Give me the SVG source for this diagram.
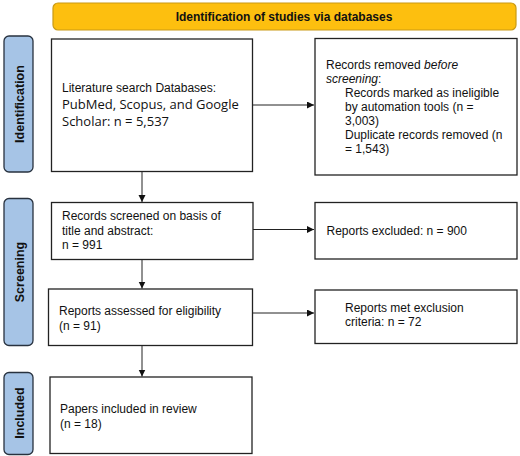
<svg xmlns="http://www.w3.org/2000/svg" width="520" height="456" viewBox="0 0 520 456">
<defs>
<marker id="ah" markerWidth="8" markerHeight="8" refX="7" refY="3.5" orient="auto" markerUnits="userSpaceOnUse">
<path d="M0,0 L7,3.5 L0,7 Z" fill="#111"/>
</marker>
<style>
.box{fill:#fff;stroke:#222;stroke-width:1.3}
.side{fill:#a6c4e6;stroke:#28323f;stroke-width:1.3}
.t{font-family:"Liberation Sans",Arial,sans-serif;font-size:12px;fill:#111}
.o{font-family:"Open Sans","Liberation Sans",sans-serif;font-size:13px;fill:#111}
.st{font-family:"Liberation Sans",Arial,sans-serif;font-size:12.5px;font-weight:bold;fill:#111;text-anchor:middle}
.c{stroke:#222;stroke-width:1;fill:none;marker-end:url(#ah)}
</style>
</defs>
<rect width="520" height="456" fill="#fff"/>
<g id="banner">
<rect x="53" y="3" width="463" height="27" rx="5" fill="#fdbf0f" stroke="#c99a16" stroke-width="1.2"/>
<text x="284" y="21" class="t" style="font-weight:bold;text-anchor:middle">Identification of studies via databases</text>
</g>
<g id="side-identification">
<rect x="4" y="36" width="29" height="136" rx="5" class="side"/>
<text class="st" transform="translate(23.5,104) rotate(-90)">Identification</text>
</g>
<g id="side-screening">
<rect x="4" y="198.5" width="29" height="147" rx="5" class="side"/>
<text class="st" transform="translate(23.5,272) rotate(-90)">Screening</text>
</g>
<g id="side-included">
<rect x="4" y="372.5" width="29" height="82" rx="5" class="side"/>
<text class="st" transform="translate(23.5,413) rotate(-90)">Included</text>
</g>
<g id="n-search">
<rect x="51.5" y="39" width="201" height="132.5" class="box"/>
<text x="62" y="91.5" class="t">Literature search Databases:</text>
<text x="62" y="108.5" class="o">PubMed, Scopus, and Google</text>
<text x="62" y="126" class="o">Scholar: n = 5,537</text>
</g>
<g id="n-removed">
<rect x="315" y="38.5" width="202" height="136.5" class="box"/>
<text class="t"><tspan x="326" y="69">Records removed <tspan font-style="italic">before</tspan></tspan><tspan x="326" y="83"><tspan font-style="italic">screening</tspan>:</tspan><tspan x="345" y="97">Records marked as ineligible</tspan><tspan x="345" y="111">by automation tools (n =</tspan><tspan x="345" y="125">3,003)</tspan><tspan x="345" y="139">Duplicate records removed (n</tspan><tspan x="345" y="153">= 1,543)</tspan></text>
</g>
<g id="n-screened">
<rect x="51.5" y="202.5" width="201.5" height="57" class="box"/>
<text class="t"><tspan x="62" y="220">Records screened on basis of</tspan><tspan x="62" y="234.5">title and abstract:</tspan><tspan x="62" y="249">n = 991</tspan></text>
</g>
<g id="n-excluded">
<rect x="315" y="202.5" width="202" height="56.5" class="box"/>
<text x="326.5" y="235" class="t">Reports excluded: n = 900</text>
</g>
<g id="n-assessed">
<rect x="48.5" y="289" width="204" height="56.5" class="box"/>
<text class="t"><tspan x="59" y="315">Reports assessed for eligibility</tspan><tspan x="59" y="329.5">(n = 91)</tspan></text>
</g>
<g id="n-met">
<rect x="315" y="290" width="202" height="53.5" class="box"/>
<text class="t"><tspan x="345" y="311.5">Reports met exclusion</tspan><tspan x="345" y="325.5">criteria: n = 72</tspan></text>
</g>
<g id="n-included">
<rect x="50" y="377" width="202" height="76.5" class="box"/>
<text class="t"><tspan x="60" y="413">Papers included in review</tspan><tspan x="60" y="428">(n = 18)</tspan></text>
</g>
<g id="connectors">
<line x1="253" y1="105" x2="314" y2="105" class="c"/>
<line x1="142" y1="172" x2="142" y2="202" class="c"/>
<line x1="253" y1="229.5" x2="314" y2="229.5" class="c"/>
<line x1="142" y1="260" x2="142" y2="288.5" class="c"/>
<line x1="253" y1="313" x2="314" y2="313" class="c"/>
<line x1="142" y1="346" x2="142" y2="376.5" class="c"/>
</g>
</svg>
